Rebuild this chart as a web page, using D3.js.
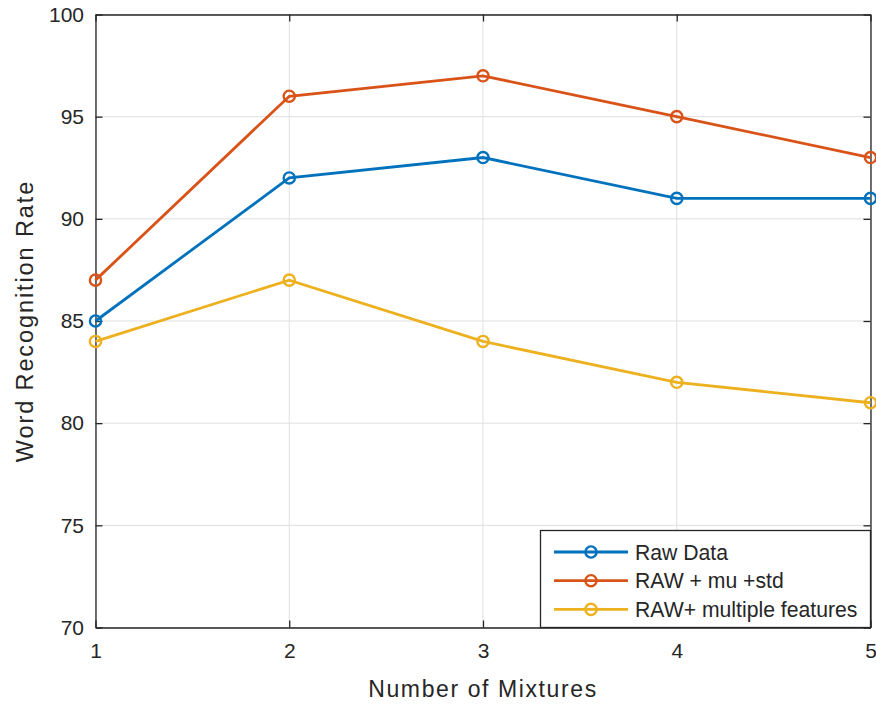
<!DOCTYPE html>
<html>
<head>
<meta charset="utf-8">
<script src="https://cdn.jsdelivr.net/npm/d3@7"></script>
<style>
  html, body { margin: 0; padding: 0; background: #fff; }
  svg { display: block; font-family: "Liberation Sans", Arial, sans-serif; }
</style>
</head>
<body>
<svg id="chart" width="876" height="706"></svg>
<script>
// Number of Gaussian mixtures evaluated
const mixtures = [1, 2, 3, 4, 5];
// Word recognition rate (%) per feature set
const rawData = [85, 92, 93, 91, 91];
const rawMuStd = [87, 96, 97, 95, 93];
const rawMultiple = [84, 87, 84, 82, 81];
const seriesNames = ["Raw Data", "RAW + mu +std", "RAW+ multiple features"];
const seriesColors = ["#0072BD", "#D95319", "#EDB120"];
const yTicks = [70, 75, 80, 85, 90, 95, 100];
const xTicks = [1, 2, 3, 4, 5];

const series = [rawData, rawMuStd, rawMultiple].map((vals, i) => ({
  name: seriesNames[i], color: seriesColors[i],
  points: vals.map((v, j) => ({ x: mixtures[j], y: v }))
}));

const svg = d3.select("#chart");
const plotL = 95.5, plotR = 870.5, plotT = 14.5, plotB = 627.5;
const x = d3.scaleLinear().domain([1, 5]).range([plotL, plotR]);
const y = d3.scaleLinear().domain([70, 100]).range([plotB, plotT]);
const axisColor = "#262626";

// grid
const grid = svg.append("g");
grid.selectAll(".gx").data(xTicks).join("line")
  .attr("x1", d => x(d)).attr("x2", d => x(d))
  .attr("y1", plotT).attr("y2", plotB)
  .attr("stroke", "#dfdfdf").attr("stroke-width", 1);
grid.selectAll(".gy").data(yTicks).join("line")
  .attr("x1", plotL).attr("x2", plotR)
  .attr("y1", d => y(d)).attr("y2", d => y(d))
  .attr("stroke", "#dfdfdf").attr("stroke-width", 1);

// axes (ticks point inward, box on all sides)
const tickLen = 7;
const fmt = d3.format("d");
const axB = svg.append("g").attr("transform", `translate(0,${plotB})`)
  .call(d3.axisBottom(x).tickValues(xTicks).tickFormat(fmt).tickSizeInner(-tickLen).tickSizeOuter(0).tickPadding(16));
const axT = svg.append("g").attr("transform", `translate(0,${plotT})`)
  .call(d3.axisTop(x).tickValues(xTicks).tickFormat("").tickSizeInner(-tickLen).tickSizeOuter(0));
const axL = svg.append("g").attr("transform", `translate(${plotL},0)`)
  .call(d3.axisLeft(y).tickValues(yTicks).tickFormat(fmt).tickSizeInner(-tickLen).tickSizeOuter(0).tickPadding(11.5));
const axR = svg.append("g").attr("transform", `translate(${plotR},0)`)
  .call(d3.axisRight(y).tickValues(yTicks).tickFormat("").tickSizeInner(-tickLen).tickSizeOuter(0));
[axB, axT, axL, axR].forEach(a => {
  a.select(".domain").attr("stroke", axisColor).attr("stroke-width", 1.3);
  a.selectAll(".tick line").attr("stroke", axisColor).attr("stroke-width", 1.3);
  a.selectAll(".tick text").attr("fill", axisColor)
    .style("font-family", "'Liberation Sans', Arial, sans-serif").style("font-size", "21px");
});

// series lines and circle markers
const line = d3.line().x(d => x(d.x)).y(d => y(d.y));
const sg = svg.append("g");
series.forEach(s => {
  sg.append("path").datum(s.points).attr("d", line)
    .attr("fill", "none").attr("stroke", s.color).attr("stroke-width", 2.8);
  sg.selectAll(null).data(s.points).join("circle")
    .attr("cx", d => x(d.x)).attr("cy", d => y(d.y)).attr("r", 5.6)
    .attr("fill", "none").attr("stroke", s.color).attr("stroke-width", 2.4);
});

// axis titles
svg.append("text").attr("x", (plotL + plotR) / 2).attr("y", 697)
  .attr("text-anchor", "middle").attr("fill", axisColor)
  .style("font-size", "23px").style("letter-spacing", "1.6px")
  .text("Number of Mixtures");
svg.append("text").attr("transform", `translate(33,${(plotT + plotB) / 2}) rotate(-90)`)
  .attr("text-anchor", "middle").attr("fill", axisColor)
  .style("font-size", "23.5px").style("letter-spacing", "1.9px")
  .text("Word Recognition Rate");

// legend
const lg = svg.append("g");
lg.append("rect").attr("x", 540.5).attr("y", 530.5).attr("width", 330).attr("height", 97)
  .attr("fill", "#fff").attr("stroke", axisColor).attr("stroke-width", 1.3);
series.forEach((s, i) => {
  const ly = 552 + i * 28.7;
  lg.append("line").attr("x1", 554).attr("x2", 628).attr("y1", ly).attr("y2", ly)
    .attr("stroke", s.color).attr("stroke-width", 2.8);
  lg.append("circle").attr("cx", 591).attr("cy", ly).attr("r", 5.6)
    .attr("fill", "none").attr("stroke", s.color).attr("stroke-width", 2.4);
  lg.append("text").attr("x", 635).attr("y", ly).attr("dy", "0.36em")
    .attr("fill", axisColor).style("font-size", "21.2px").text(s.name);
});
</script>
</body>
</html>
